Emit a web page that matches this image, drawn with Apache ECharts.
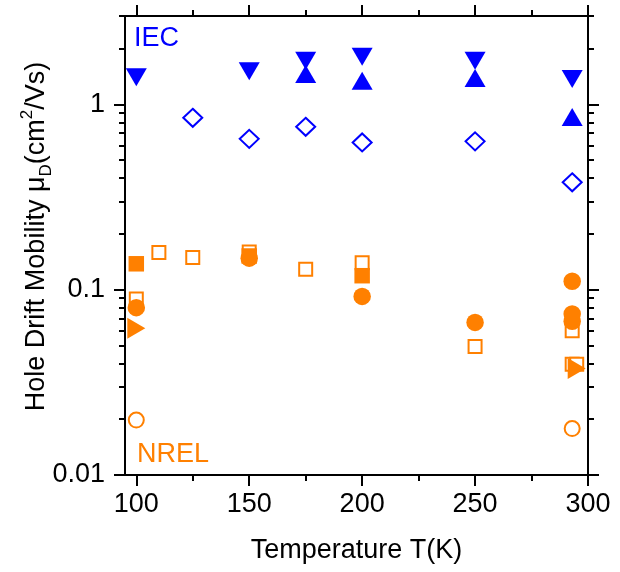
<!DOCTYPE html>
<html>
<head>
<meta charset="utf-8">
<script src="https://cdn.jsdelivr.net/npm/echarts@6/dist/echarts.min.js"></script>
<style>
  html, body { margin: 0; padding: 0; background: #fff; }
  #chart { width: 620px; height: 572px; }
</style>
</head>
<body>
<div id="chart"></div>
<script>
// 数据：IEC (蓝色) 与 NREL (橙色) 的空穴漂移迁移率
const X_MAJOR = [100, 150, 200, 250, 300];
const X_MINOR = [125, 175, 225, 275];
const Y_MAJOR = [0.01, 0.1, 1];
const Y_MINOR = [0.02, 0.03, 0.04, 0.05, 0.06, 0.07, 0.08, 0.09,
                 0.2, 0.3, 0.4, 0.5, 0.6, 0.7, 0.8, 0.9, 2, 3];

const T_IEC_DOWN = [100, 150, 175, 200, 250, 293];
const MU_IEC_DOWN = [1.40, 1.51, 1.72, 1.81, 1.72, 1.37];
const T_IEC_UP = [175, 200, 250, 293];
const MU_IEC_UP = [1.46, 1.34, 1.39, 0.854];
const T_IEC_DIAMOND = [125, 150, 175, 200, 250, 293];
const MU_IEC_DIAMOND = [0.847, 0.652, 0.757, 0.623, 0.632, 0.38];

const T_NREL_OPEN_SQ = [100, 110, 125, 150, 175, 200, 250, 293, 293, 295];
const MU_NREL_OPEN_SQ = [0.089, 0.159, 0.149, 0.160, 0.129, 0.140, 0.0494, 0.060, 0.0396, 0.0396];
const T_NREL_SQ = [100, 150, 200];
const MU_NREL_SQ = [0.138, 0.152, 0.119];
const T_NREL_CIRCLE = [100, 150, 200, 250, 293, 293, 293];
const MU_NREL_CIRCLE = [0.080, 0.148, 0.092, 0.0666, 0.111, 0.074, 0.0676];
const T_NREL_RIGHT = [100, 295];
const MU_NREL_RIGHT = [0.0619, 0.0376];
const T_NREL_OPEN_CIRCLE = [100, 293];
const MU_NREL_OPEN_CIRCLE = [0.0198, 0.0178];

const BLUE = "#0000ff";
const ORANGE = "#ff8000";
const FONT = "Liberation Sans";

function pairs(xs, ys) {
    return xs.map((x, i) => [x, ys[i]]);
}

// 生成一条轴（主刻度或次刻度）
function xAxisOf(pos, ticks, len, withLabel, withLine) {
    return {
        type: "value", position: pos, min: 95, max: 300,
        axisLine: { show: withLine, lineStyle: { color: "#000", width: 2 } },
        axisTick: { show: true, customValues: ticks, length: len, lineStyle: { color: "#000", width: 2 } },
        axisLabel: withLabel ? { show: true, customValues: ticks, fontSize: 27, color: "#000", fontFamily: FONT, margin: 16 } : { show: false },
        splitLine: { show: false }
    };
}
function yAxisOf(pos, ticks, len, withLabel, withLine) {
    return {
        type: "log", logBase: 10, position: pos, min: 0.01, max: 3,
        axisLine: { show: withLine, lineStyle: { color: "#000", width: 2 } },
        axisTick: { show: true, customValues: ticks, length: len, lineStyle: { color: "#000", width: 2 } },
        axisLabel: withLabel ? {
            show: true, customValues: ticks, fontSize: 27, color: "#000", fontFamily: FONT, margin: 20,
            formatter: v => String(+(+v).toPrecision(3))
        } : { show: false },
        splitLine: { show: false },
        minorTick: { show: false }
    };
}

let myChart = echarts.init(document.getElementById("chart"), null, { renderer: "canvas" });

let xAxes = [
    xAxisOf("bottom", X_MAJOR, 11, true, true),
    xAxisOf("bottom", X_MINOR, 6, false, false),
    xAxisOf("top", X_MAJOR, 11, false, true),
    xAxisOf("top", X_MINOR, 6, false, false)
];
xAxes[0].name = "Temperature T(K)";
xAxes[0].nameLocation = "middle";
xAxes[0].nameGap = 62;
xAxes[0].nameTextStyle = { fontSize: 27, color: "#000", fontFamily: FONT };

let yAxes = [
    yAxisOf("left", Y_MAJOR, 11, true, true),
    yAxisOf("left", Y_MINOR, 6, false, false),
    yAxisOf("right", Y_MAJOR, 11, false, true),
    yAxisOf("right", Y_MINOR, 6, false, false)
];
yAxes[0].name = "{a|Hole Drift Mobility μ}{sub|D}{a|(cm}{sup|2}{a|/Vs)}";
yAxes[0].nameLocation = "middle";
yAxes[0].nameGap = 70;
yAxes[0].nameMoveOverlap = false;
yAxes[0].nameTextStyle = {
    color: "#000", fontFamily: FONT, fontSize: 27,
    padding: [0, 0, 0, 18],
    rich: {
        a: { fontSize: 27, lineHeight: 36, color: "#000", fontFamily: FONT },
        sub: { fontSize: 17, lineHeight: 17, verticalAlign: "bottom", color: "#000", fontFamily: FONT },
        sup: { fontSize: 17, lineHeight: 17, verticalAlign: "top", color: "#000", fontFamily: FONT }
    }
};

function scatter(name, xs, ys, symbol, size, fill, stroke, rotate) {
    return {
        name: name, type: "scatter", xAxisIndex: 0, yAxisIndex: 0,
        symbol: symbol, symbolSize: size, symbolRotate: rotate || 0,
        itemStyle: { color: fill, borderColor: stroke, borderWidth: fill === stroke ? 0 : 2, opacity: 1 },
        data: pairs(xs, ys),
        silent: true
    };
}

let option = {
    animation: false,
    backgroundColor: "#fff",
    grid: { left: 125, right: 32, top: 16, bottom: 97, outerBoundsMode: "none" },
    xAxis: xAxes,
    yAxis: yAxes,
    series: [
        scatter("IEC down", T_IEC_DOWN, MU_IEC_DOWN, "triangle", [21, 18], BLUE, BLUE, 180),
        scatter("IEC up", T_IEC_UP, MU_IEC_UP, "triangle", [21, 18], BLUE, BLUE, 0),
        scatter("IEC diamond", T_IEC_DIAMOND, MU_IEC_DIAMOND, "diamond", [19, 18], "#fff", BLUE),
        scatter("NREL open square", T_NREL_OPEN_SQ, MU_NREL_OPEN_SQ, "rect", 13, "#fff", ORANGE),
        scatter("NREL square", T_NREL_SQ, MU_NREL_SQ, "rect", 15.5, ORANGE, ORANGE),
        scatter("NREL circle", T_NREL_CIRCLE, MU_NREL_CIRCLE, "circle", 17.5, ORANGE, ORANGE),
        scatter("NREL right", T_NREL_RIGHT, MU_NREL_RIGHT, "triangle", [21, 18], ORANGE, ORANGE, -90),
        scatter("NREL open circle", T_NREL_OPEN_CIRCLE, MU_NREL_OPEN_CIRCLE, "circle", 15, "#fff", ORANGE)
    ],
    graphic: [
        { type: "text", left: 134, top: 25, style: { text: "IEC", fill: BLUE, fontSize: 27, fontFamily: FONT } },
        { type: "text", left: 137, top: 441, style: { text: "NREL", fill: ORANGE, fontSize: 27, fontFamily: FONT } }
    ]
};
myChart.setOption(option);
</script>
</body>
</html>
